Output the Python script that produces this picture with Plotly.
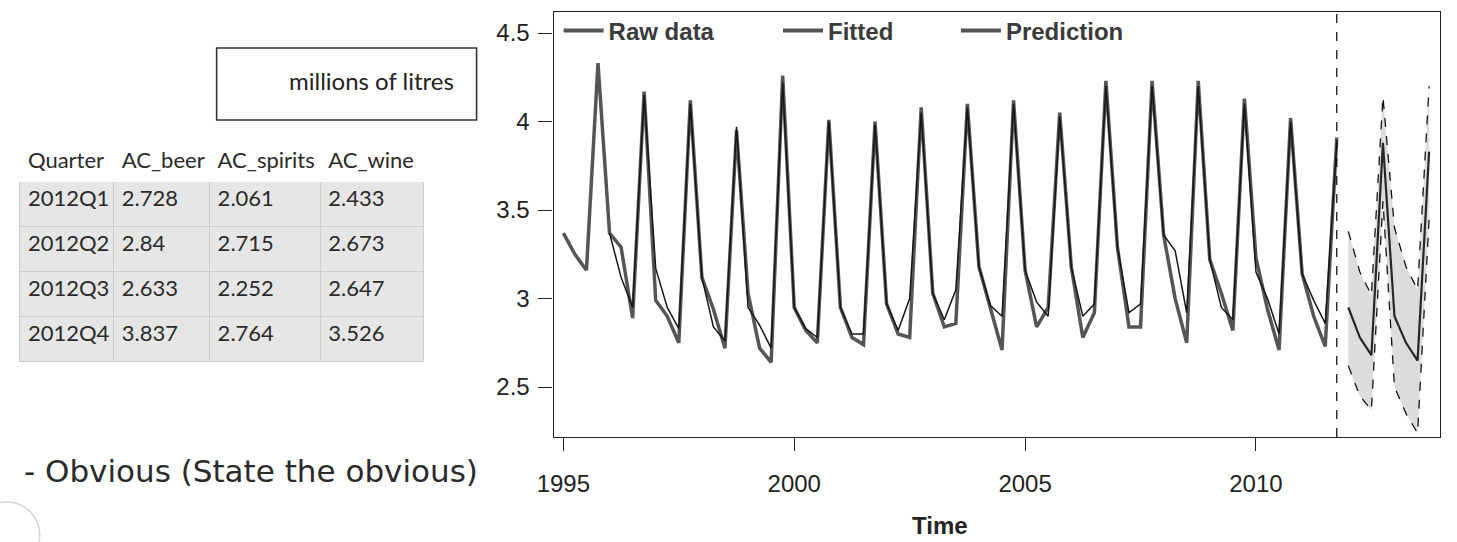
import plotly.graph_objects as go

W, H = 1457, 542

# ---------------- data ----------------
raw_start = 1995.0          # first quarter of the raw series
raw_data = [
    3.37, 3.25, 3.16, 4.33,   # 1995
    3.37, 3.29, 2.89, 4.17,   # 1996
    2.99, 2.90, 2.75, 4.12,   # 1997
    3.12, 2.94, 2.72, 3.95,   # 1998
    3.03, 2.72, 2.64, 4.26,   # 1999
    2.95, 2.82, 2.75, 4.01,   # 2000
    2.95, 2.78, 2.74, 4.00,   # 2001
    2.97, 2.80, 2.78, 4.08,   # 2002
    3.03, 2.84, 2.86, 4.10,   # 2003
    3.18, 2.95, 2.71, 4.12,   # 2004
    3.16, 2.84, 2.95, 4.05,   # 2005
    3.18, 2.78, 2.92, 4.23,   # 2006
    3.29, 2.84, 2.84, 4.23,   # 2007
    3.36, 3.00, 2.75, 4.23,   # 2008
    3.22, 3.03, 2.82, 4.13,   # 2009
    3.23, 2.94, 2.71, 4.02,   # 2010
    3.14, 2.90, 2.73, 3.91,   # 2011
]

fit_start = 1996.0
fitted = [
    3.37, 3.12, 2.95, 4.15,   # 1996
    3.17, 2.95, 2.83, 4.10,   # 1997
    3.12, 2.84, 2.76, 3.97,   # 1998
    2.95, 2.85, 2.72, 4.22,   # 1999
    2.95, 2.83, 2.78, 4.00,   # 2000
    2.95, 2.80, 2.80, 3.98,   # 2001
    2.97, 2.82, 3.00, 4.05,   # 2002
    3.03, 2.88, 3.05, 4.08,   # 2003
    3.18, 2.96, 2.90, 4.10,   # 2004
    3.16, 2.98, 2.90, 4.03,   # 2005
    3.18, 2.90, 2.97, 4.20,   # 2006
    3.29, 2.92, 2.97, 4.20,   # 2007
    3.36, 3.27, 2.92, 4.20,   # 2008
    3.22, 2.95, 2.88, 4.10,   # 2009
    3.15, 3.00, 2.80, 4.00,   # 2010
    3.14, 2.99, 2.86, 3.88,   # 2011
]

pred_start = 2012.0
pred_mean  = [2.95, 2.78, 2.68, 3.88, 2.90, 2.75, 2.65, 3.83]
pred_upper = [3.38, 3.15, 3.02, 4.14, 3.40, 3.18, 3.05, 4.20]
pred_lower = [2.62, 2.45, 2.37, 3.55, 2.50, 2.35, 2.24, 3.45]
forecast_origin = 2011.75

x_ticks = [1995, 2000, 2005, 2010]
y_ticks = [2.5, 3, 3.5, 4, 4.5]

table_headers = ["Quarter", "AC_beer", "AC_spirits", "AC_wine"]
table_quarter = ["2012Q1", "2012Q2", "2012Q3", "2012Q4"]
table_beer    = ["2.728", "2.84", "2.633", "3.837"]
table_spirits = ["2.061", "2.715", "2.252", "2.764"]
table_wine    = ["2.433", "2.673", "2.647", "3.526"]

unit_label = "millions of litres"
note_text = "- Obvious (State the obvious)"

# ---------------- helpers ----------------
def quarters(start, n):
    return [start + i / 4 for i in range(n)]

def px(x):
    return x / W

def py(y):
    return 1 - y / H

t_raw = quarters(raw_start, len(raw_data))
t_fit = quarters(fit_start, len(fitted))
t_pred = quarters(pred_start, len(pred_mean))

AX_FONT = dict(family="Liberation Sans, Arial, sans-serif", size=24, color="#222")

fig = go.Figure()

# prediction interval band
fig.add_trace(go.Scatter(x=t_pred, y=pred_upper, mode="lines",
                         line=dict(color="#111", width=1.3, dash="dash"),
                         showlegend=False, hoverinfo="skip"))
fig.add_trace(go.Scatter(x=t_pred, y=pred_lower, mode="lines",
                         line=dict(color="#111", width=1.3, dash="dash"),
                         fill="tonexty", fillcolor="rgba(205,205,205,0.7)",
                         showlegend=False, hoverinfo="skip"))

# raw data, fitted, prediction
fig.add_trace(go.Scatter(x=t_raw, y=raw_data, mode="lines",
                         line=dict(color="#555555", width=3.5),
                         showlegend=False))
fig.add_trace(go.Scatter(x=t_fit, y=fitted, mode="lines",
                         line=dict(color="#161616", width=1.5),
                         showlegend=False))
fig.add_trace(go.Scatter(x=t_pred, y=pred_mean, mode="lines",
                         line=dict(color="#262626", width=2.2),
                         showlegend=False))

# legend entries (each in its own legend box, placed like the reference)
for name, leg in [("Raw data", "legend"), ("Fitted", "legend2"), ("Prediction", "legend3")]:
    fig.add_trace(go.Scatter(x=[None], y=[None], mode="lines", name="<b>%s</b>" % name,
                             line=dict(color="#555", width=4), legend=leg))

leg_common = dict(font=dict(family="Liberation Sans, Arial, sans-serif", size=24, color="#3a3a3a"),
                  bgcolor="rgba(0,0,0,0)", borderwidth=0, yanchor="middle",
                  xanchor="left", itemwidth=40)

# table
fig.add_trace(go.Table(
    domain=dict(x=[px(3), px(412)], y=[py(366), py(143)]),
    columnwidth=[95, 97, 112, 105],
    header=dict(values=table_headers, align="left", height=38,
                fill_color="white", line_color="white",
                font=dict(family="Lato, sans-serif", size=22, color="#2a2a2a")),
    cells=dict(values=[table_quarter, table_beer, table_spirits, table_wine],
               align="left", height=45,
               fill_color="#e6e6e6", line=dict(color="#cccccc", width=1),
               font=dict(family="Lato, sans-serif", size=22, color="#2a2a2a")),
))

fig.update_layout(
    width=W, height=H,
    margin=dict(l=0, r=0, t=0, b=0),
    paper_bgcolor="white", plot_bgcolor="white",
    legend=dict(x=px(548), y=py(31), **leg_common),
    legend2=dict(x=px(770), y=py(31), **leg_common),
    legend3=dict(x=px(950), y=py(31), **leg_common),
    xaxis=dict(domain=[px(543), px(1440)], range=[1994.79, 2013.99],
               tickvals=x_ticks, ticks="outside", ticklen=13, tickwidth=1.3,
               tickcolor="#222", showline=True, mirror=True, linecolor="#222",
               linewidth=1.4, showgrid=False, zeroline=False, tickfont=AX_FONT,
               ticklabelstandoff=12),
    yaxis=dict(domain=[py(437), py(12)], range=[2.218, 4.619],
               tickvals=y_ticks, ticks="outside", ticklen=14, tickwidth=1.3,
               tickcolor="#222", showline=True, mirror=True, linecolor="#222",
               linewidth=1.4, showgrid=False, zeroline=False, tickfont=AX_FONT,
               ticklabelstandoff=4),
    shapes=[
        dict(type="line", xref="x", yref="y domain", x0=forecast_origin, x1=forecast_origin,
             y0=0, y1=1, line=dict(color="#111", width=1.3, dash="dash")),
        dict(type="rect", xref="paper", yref="paper", x0=px(202), x1=px(465),
             y0=py(120), y1=py(48), line=dict(color="#333", width=1.6)),
        dict(type="circle", xref="paper", yref="paper", x0=px(-43), x1=px(23),
             y0=py(568), y1=py(502), line=dict(color="#d4d4d4", width=1.5)),
    ],
    annotations=[
        dict(text="<b>Time</b>", xref="paper", yref="paper", x=px(934), y=py(525),
             showarrow=False, xanchor="center", yanchor="middle",
             font=dict(family="Liberation Sans, Arial, sans-serif", size=24, color="#222")),
        dict(text=unit_label, xref="paper", yref="paper", x=px(444), y=py(80),
             showarrow=False, xanchor="right", yanchor="middle",
             font=dict(family="Lato, sans-serif", size=24, color="#222")),
        dict(text=note_text, xref="paper", yref="paper", x=px(468), y=py(471),
             showarrow=False, xanchor="right", yanchor="middle",
             font=dict(family="DejaVu Sans, Verdana, sans-serif", size=31, color="#2a2a2a")),
    ],
)

fig.write_html("out.html",
               config={"displayModeBar": False},
               post_script="document.body.style.margin='0';document.body.style.overflow='hidden';")
